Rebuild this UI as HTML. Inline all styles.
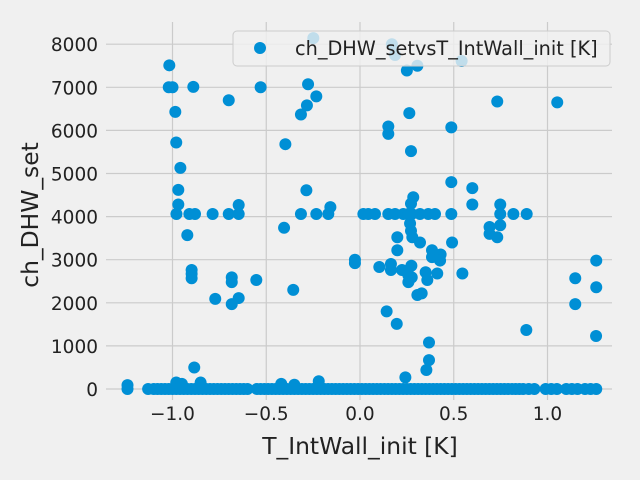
<!DOCTYPE html>
<html><head><meta charset="utf-8"><style>
html,body{margin:0;padding:0;background:#f0f0f0;}
svg{display:block;font-family:"DejaVu Sans","Liberation Sans",sans-serif;}
</style></head><body>
<svg id="chart" width="640" height="480">
<rect x="0" y="0" width="640" height="480" fill="#f0f0f0"/>
<g id="grid"></g><g id="ticks"></g><g id="points"></g>
<text x="360" y="454" text-anchor="middle" font-size="23.4" fill="#222">T_IntWall_init [K]</text>
<text transform="translate(38,215) rotate(-90)" text-anchor="middle" font-size="23.4" fill="#222">ch_DHW_set</text>
<g>
<rect x="233" y="31" width="377" height="35" rx="4" fill="#f0f0f0" fill-opacity="0.8" stroke="#cccccc"/>
<circle cx="260" cy="48" r="6" fill="#008fd5"/>
<text x="295" y="55" font-size="19.3" fill="#222">ch_DHW_setvsT_IntWall_init [K]</text>
</g>
</svg>
<script>
const xTicks=[-1.0,-0.5,0.0,0.5,1.0];
const xTickLabels=["\u22121.0","\u22120.5","0.0","0.5","1.0"];
const yTicks=[0,1000,2000,3000,4000,5000,6000,7000,8000];
const yTickLabels=["0","1000","2000","3000","4000","5000","6000","7000","8000"];
const scatterX=[-1.017,-1.02,-1.0,-0.889,-0.70,-0.53,-0.277,-0.233,-0.315,-0.283,-0.985,-0.98,-0.958,-0.969,-0.969,-0.979,-0.91,-0.88,-0.786,-0.70,-0.647,-0.647,-0.921,-0.398,-0.286,-0.315,-0.233,-0.169,-0.158,-0.405,-0.898,-0.898,-0.898,-0.772,-0.684,-0.684,-0.684,-0.647,-0.553,-0.356,-0.027,-0.027,-0.884,-1.24,-1.24,-0.249,0.17,0.187,0.306,0.25,0.542,0.732,1.052,0.263,0.151,0.151,0.487,0.272,0.487,0.599,0.599,0.284,0.272,0.018,0.044,0.08,0.151,0.187,0.231,0.258,0.276,0.32,0.364,0.4,0.487,0.748,0.818,0.889,0.748,0.267,0.272,0.279,0.199,0.199,0.32,0.491,0.691,0.691,0.748,0.732,0.384,0.384,0.43,0.427,0.103,0.165,0.165,0.224,0.258,0.276,0.258,0.274,0.35,0.359,0.412,0.546,0.306,0.329,0.142,0.196,0.887,0.368,0.368,0.354,0.242,1.148,1.26,1.26,1.148,1.259,-0.98,-0.95,-0.85,-0.42,-0.35,-0.22];
const scatterY=[7510,7000,7000,7010,6700,7000,7070,6790,6370,6580,6430,5720,5130,4620,4280,4060,4060,4060,4060,4060,4060,4270,3570,5680,4610,4060,4060,4060,4220,3740,2760,2670,2570,2090,2590,2480,1970,2110,2530,2300,3000,2920,500,90,0,8140,8000,7750,7500,7390,7610,6670,6650,6400,6090,5920,6070,5520,4800,4660,4280,4450,4300,4060,4060,4060,4060,4060,4060,4060,4060,4060,4060,4060,4060,4060,4060,4060,4280,3840,3670,3520,3520,3220,3400,3400,3760,3600,3800,3520,3220,3060,3120,2980,2830,2900,2760,2760,2640,2590,2480,2860,2710,2530,2680,2680,2180,2220,1800,1510,1370,1080,670,440,270,2570,2980,2360,1970,1230,150,120,150,120,100,180];
const baseX=[-1.13,-1.10,-1.08,-1.06,-1.04,-1.02,-1.00,-0.98,-0.96,-0.94,-0.92,-0.90,-0.88,-0.86,-0.84,-0.82,-0.80,-0.78,-0.76,-0.74,-0.72,-0.70,-0.68,-0.66,-0.64,-0.62,-0.60,-0.55,-0.53,-0.51,-0.49,-0.47,-0.45,-0.43,-0.41,-0.39,-0.37,-0.35,-0.33,-0.31,-0.29,-0.27,-0.25,-0.23,-0.21,-0.19,-0.17,-0.15,-0.13,-0.11,-0.09,-0.07,-0.05,-0.03,-0.01,0.01,0.03,0.05,0.07,0.09,0.11,0.13,0.15,0.17,0.19,0.21,0.23,0.25,0.27,0.29,0.31,0.33,0.35,0.37,0.39,0.41,0.43,0.45,0.47,0.49,0.51,0.53,0.55,0.57,0.59,0.61,0.63,0.65,0.67,0.69,0.71,0.73,0.75,0.77,0.79,0.81,0.83,0.85,0.87,0.90,0.93,0.99,1.02,1.05,1.10,1.13,1.16,1.20,1.23,1.26];
const baseY=[0,0,0,0,0,0,0,0,0,0,0,0,0,0,0,0,0,0,0,0,0,0,0,0,0,0,0,0,0,0,0,0,0,0,0,0,0,0,0,0,0,0,0,0,0,0,0,0,0,0,0,0,0,0,0,0,0,0,0,0,0,0,0,0,0,0,0,0,0,0,0,0,0,0,0,0,0,0,0,0,0,0,0,0,0,0,0,0,0,0,0,0,0,0,0,0,0,0,0,0,0,0,0,0,0,0,0,0,0,0];
const X0=-1.344,X1=1.344,Y0=-255,Y1=8515,PL=108,PR=612,PT=22,PB=400;
const sx=v=>PL+(v-X0)/(X1-X0)*(PR-PL);
const sy=v=>PB-(v-Y0)/(Y1-Y0)*(PB-PT);
const NS="http://www.w3.org/2000/svg";
const grid=document.getElementById('grid'),ticks=document.getElementById('ticks'),pts=document.getElementById('points');
function mk(t,a){const e=document.createElementNS(NS,t);for(const k in a)e.setAttribute(k,a[k]);return e;}
xTicks.forEach((v,i)=>{
 const l=mk('line',{x1:sx(v),x2:sx(v),y1:PT,y2:PB,stroke:'#cbcbcb','stroke-width':1.2});
 
 
 grid.appendChild(l);
 const t=mk('text',{x:sx(v),y:420,'text-anchor':'middle','font-size':18.5,fill:'#222'});
 t.textContent=xTickLabels[i];
 
 
 ticks.appendChild(t);
});
yTicks.forEach((v,i)=>{
 const l=mk('line',{x1:PL-2,x2:PR,y1:sy(v),y2:sy(v),stroke:'#cbcbcb','stroke-width':1.2});
 
 
 grid.appendChild(l);
 const t=mk('text',{x:98,y:sy(v)+7,'text-anchor':'end','font-size':18.5,fill:'#222'});
 t.textContent=yTickLabels[i];
 
 
 ticks.appendChild(t);
});
function dot(x,y){
 const c=mk('circle',{cx:sx(x),cy:sy(y),r:6,fill:'#008fd5'});
 
 
 pts.appendChild(c);
}
baseX.forEach((x,i)=>dot(x,baseY[i]));
scatterX.forEach((x,i)=>dot(x,scatterY[i]));
</script>
</body></html>
